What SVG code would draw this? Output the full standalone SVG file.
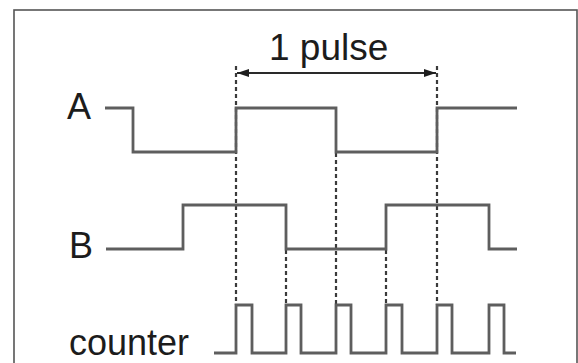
<svg xmlns="http://www.w3.org/2000/svg" width="578" height="363" viewBox="0 0 578 363">
  <defs>
    <style>
      .lbl { font-family: "Liberation Sans", Arial, sans-serif; fill: #1c1c1c; }
      .wave { fill: none; stroke: #5e5e5e; stroke-width: 2.8; stroke-linejoin: miter; }
      .guide { fill: none; stroke: #3a3a3a; stroke-width: 2.2; stroke-dasharray: 4 3; }
      .dim { fill: none; stroke: #2a2a2a; stroke-width: 1.8; }
    </style>
    <marker id="ah" viewBox="0 0 12 8" refX="12" refY="4" markerWidth="12" markerHeight="8" markerUnits="userSpaceOnUse" orient="auto-start-reverse">
      <path d="M0,0 L12,4 L0,8 Z" fill="#1e1e1e"/>
    </marker>
  </defs>
  <rect width="578" height="363" fill="#ffffff"/>
  <rect id="frame" x="14" y="10" width="563" height="370" fill="none" stroke="#555555" stroke-width="1.6"/>

  <g id="guides">
    <line class="guide" x1="236" y1="66" x2="236" y2="305"/>
    <line class="guide" x1="336" y1="153" x2="336" y2="305"/>
    <line class="guide" x1="437" y1="66" x2="437" y2="305"/>
    <line class="guide" x1="286" y1="250" x2="286" y2="305"/>
    <line class="guide" x1="386" y1="250" x2="386" y2="305"/>
  </g>

  <g id="pulse-dimension">
    <line class="dim" x1="237" y1="73" x2="436" y2="73" marker-start="url(#ah)" marker-end="url(#ah)"/>
    <text class="lbl" x="269" y="60" font-size="37">1 pulse</text>
  </g>

  <g id="signal-A">
    <text class="lbl" x="67" y="119" font-size="36">A</text>
    <polyline class="wave" points="105,108 133,108 133,152 236,152 236,108 336,108 336,152 437,152 437,108 517,108"/>
  </g>

  <g id="signal-B">
    <text class="lbl" x="69" y="258" font-size="36">B</text>
    <polyline class="wave" points="106,249 183,249 183,205 286,205 286,249 386,249 386,205 489,205 489,249 517,249"/>
  </g>

  <g id="signal-counter">
    <text class="lbl" x="69" y="355" font-size="36">counter</text>
    <polyline class="wave" points="214,353 236,353 236,305 252,305 252,353 286,353 286,305 301,305 301,353 336,353 336,305 351,305 351,353 386,353 386,305 402,305 402,353 437,353 437,305 452,305 452,353 489,353 489,305 504,305 504,353 516,353"/>
  </g>
</svg>
